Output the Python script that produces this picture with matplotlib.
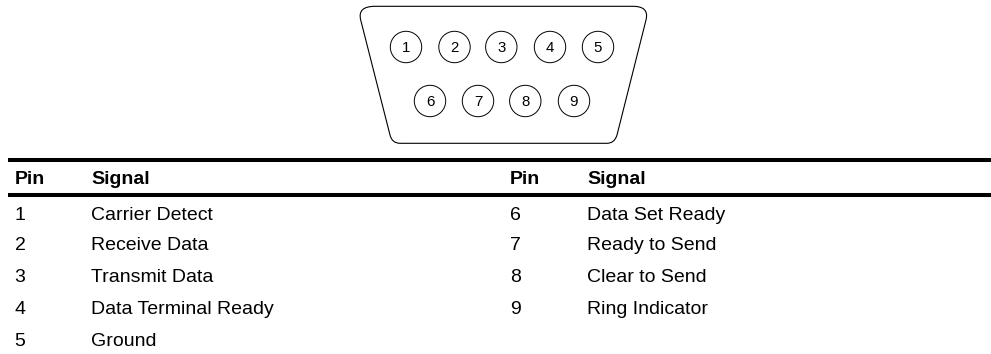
import matplotlib
matplotlib.use("Agg")
import matplotlib.pyplot as plt
from matplotlib.patches import Circle, PathPatch
from matplotlib.path import Path

W, H = 991, 354

# Data
header_pin = "Pin"
header_signal = "Signal"
pins_left = ["1", "2", "3", "4", "5"]
signals_left = ["Carrier Detect", "Receive Data", "Transmit Data", "Data Terminal Ready", "Ground"]
pins_right = ["6", "7", "8", "9"]
signals_right = ["Data Set Ready", "Ready to Send", "Clear to Send", "Ring Indicator"]
connector_row1 = ["1", "2", "3", "4", "5"]
connector_row2 = ["6", "7", "8", "9"]

# Layout (pixels)
row1_x = [406, 454.5, 501.3, 550, 598]
row2_x = [430, 478, 525.3, 574]
row1_y, row2_y = 47, 101
pin_r = 15.7
row_y = [213, 244, 276, 307.5, 340]
header_y = 178
col_x = [14.5, 91, 510, 587]

FONT = "Liberation Sans"
TS = 14.0

fig = plt.figure(figsize=(W / 100, H / 100), dpi=100)
ax = fig.add_axes([0, 0, 1, 1])
ax.set_xlim(0, W)
ax.set_ylim(H, 0)
ax.axis("off")

# Connector outline with rounded corners
L, C = Path.LINETO, Path.CURVE3
verts = [
    (375, 6.3), (633, 6.3), (649.5, 6.3), (646, 20), (617, 135), (614.6, 143.3), (607, 143.3),
    (400, 143.3), (392, 143.3), (390, 135), (360.7, 20), (357.2, 6.3), (375, 6.3),
]
codes = [Path.MOVETO, L, C, C, L, C, C, L, C, C, L, C, C]
ax.add_patch(PathPatch(Path(verts, codes), fc="none", ec="black", lw=0.8))

for labels, xs, y in ((connector_row1, row1_x, row1_y), (connector_row2, row2_x, row2_y)):
    for lab, x in zip(labels, xs):
        ax.add_patch(Circle((x, y), pin_r, fc="none", ec="black", lw=0.7))
        ax.text(x, y, lab, ha="center", va="center_baseline", family=FONT,
                fontsize=10.8, color="black")

# Table rules
for y in (160, 195):
    ax.plot([8, 991], [y, y], color="black", lw=2.9, solid_capstyle="butt")

# Header
for x, t in zip(col_x, [header_pin, header_signal, header_pin, header_signal]):
    ax.text(x, header_y, t, ha="left", va="center_baseline", family=FONT,
            fontsize=TS, fontweight="bold", color="black")

# Rows
for pins, sigs, cx, sx in ((pins_left, signals_left, col_x[0], col_x[1]),
                           (pins_right, signals_right, col_x[2], col_x[3])):
    for i, (p, s) in enumerate(zip(pins, sigs)):
        ax.text(cx, row_y[i], p, ha="left", va="center_baseline", family=FONT,
                fontsize=TS, color="black")
        ax.text(sx, row_y[i], s, ha="left", va="center_baseline", family=FONT,
                fontsize=TS, color="black")

fig.savefig("out.png", dpi=100)
